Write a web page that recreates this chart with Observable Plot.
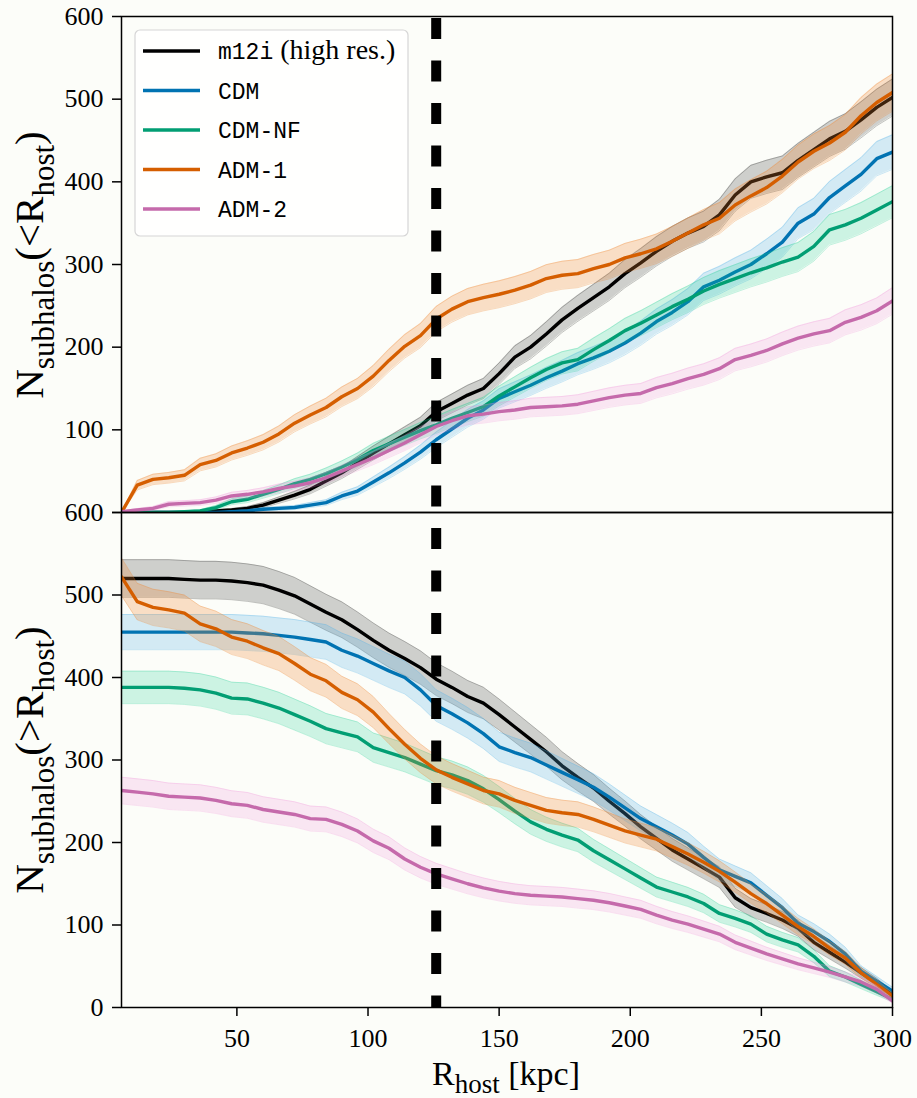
<!DOCTYPE html>
<html>
<head>
<meta charset="utf-8">
<script src="https://cdn.jsdelivr.net/npm/d3@7"></script>
<script src="https://cdn.jsdelivr.net/npm/@observablehq/plot@0.6"></script>
<style>
html, body { margin: 0; padding: 0; background: #fcfdf9; }
#chart { position: relative; width: 917px; height: 1098px; }
#chart svg { position: absolute; left: 0; overflow: visible; }
</style>
</head>
<body>
<div id="chart"></div>
<script>
// Host-centric radius grid [kpc]
const radius = [6,12,18,24,30,36,42,48,54,60,66,72,78,84,90,96,102,108,114,120,126,132,138,144,150,156,162,168,174,180,186,192,198,204,210,216,222,228,234,240,246,252,258,264,270,276,282,288,294,300];

const seriesNames = ["m12i (high res.)", "CDM", "CDM-NF", "ADM-1", "ADM-2"];

// Cumulative counts N(<R)
const innerM12i = [0,0,0,0,0,1,2,3,5,9,15,21,28,38,48,60,72,83,94,105,122,132,142,150,168,188,200,216,233,247,260,273,289,302,316,328,338,346,360,384,400,406,411,426,439,452,461,475,490,502];
const innerCDM = [0,0,0,0,0,0,0,1,2,4,5,6,9,12,20,26,37,48,60,73,88,101,114,124,138,146,154,163,171,180,187,195,205,217,231,242,255,273,281,291,300,313,327,350,361,381,395,409,428,436];
const innerCDMNF = [0,0,0,0,1,2,6,13,16,22,28,35,40,47,55,64,75,83,91,99,106,114,121,128,141,152,163,173,181,185,197,208,220,229,239,249,258,268,276,283,290,296,303,309,322,342,348,356,366,376];
const innerADM1 = [0,33,40,42,45,58,63,72,78,85,95,108,118,127,140,150,165,184,201,214,234,246,255,260,264,269,275,283,287,289,295,300,308,313,319,328,338,348,356,372,383,393,407,424,437,447,460,480,496,508];
const innerADM2 = [1,3,5,10,11,12,15,20,22,25,29,32,36,42,50,58,66,75,84,94,104,111,117,119,122,124,127,128,129,131,135,139,142,144,151,156,162,167,174,185,190,196,204,211,216,220,230,236,244,256];

// Counts beyond R: N(>R)
const outerM12i = [520,520,520,520,519,518,518,517,515,512,506,499,489,479,470,458,445,433,423,412,398,388,377,369,355,340,325,310,293,279,266,250,235,219,205,191,180,169,158,133,121,114,106,96,79,67,55,42,30,16];
const outerCDM = [455,455,455,455,455,455,455,455,454,453,451,449,446,443,433,426,417,408,400,385,366,356,345,332,316,309,303,294,285,276,267,255,242,229,219,209,198,182,167,159,151,136,121,102,92,80,65,44,32,20];
const outerCDMNF = [388,388,388,388,387,385,381,375,374,369,363,355,347,338,333,328,315,309,303,295,287,282,275,265,252,238,225,216,209,203,190,179,168,157,146,140,134,126,114,108,101,89,82,76,62,44,37,28,19,10];
const outerADM1 = [522,492,485,482,478,465,459,449,444,436,429,417,404,396,382,373,358,338,319,302,288,279,271,263,259,251,245,239,236,234,228,221,214,209,204,195,186,176,165,152,138,126,112,98,86,72,60,42,28,14];
const outerADM2 = [263,261,259,256,255,254,251,247,245,240,237,234,229,228,222,214,202,193,180,170,162,156,150,145,141,138,136,135,134,132,130,127,123,119,112,106,101,95,89,79,72,65,59,53,48,43,37,31,22,8];

const referenceRadius = [126];
const yTicks = [0,100,200,300,400,500,600];
const xTicks = [50,100,150,200,250,300];

const lineColors = ["#000000", "#0173B2", "#029E73", "#D55E00", "#C56AAB"];
const bandColors = ["#000000", "#56B4E9", "#10CC8C", "#EE8733", "#F08CD8"];
const bandOpacity = [0.18, 0.25, 0.2, 0.26, 0.2];

// Tidy rows; shaded band = Poisson uncertainty (N ± √N)
function tidy(arrays) {
  const rows = [];
  arrays.forEach((vals, i) => {
    vals.forEach((n, j) => {
      const e = Math.sqrt(n);
      rows.push({series: seriesNames[i], r: radius[j], n, lo: Math.max(0, n - e), hi: n + e});
    });
  });
  return rows;
}
const innerRows = tidy([innerM12i, innerCDM, innerCDMNF, innerADM1, innerADM2]);
const outerRows = tidy([outerM12i, outerCDM, outerCDMNF, outerADM1, outerADM2]);

function seriesMarks(rows) {
  const marks = [];
  seriesNames.forEach((s, i) => {
    const d = rows.filter(r => r.series === s);
    marks.push(Plot.areaY(d, {x: "r", y1: "lo", y2: "hi", fill: bandColors[i], fillOpacity: bandOpacity[i], clip: true}));
    marks.push(Plot.lineY(d, {x: "r", y: "lo", stroke: bandColors[i], strokeOpacity: bandOpacity[i] + 0.05, strokeWidth: 1, clip: true}));
    marks.push(Plot.lineY(d, {x: "r", y: "hi", stroke: bandColors[i], strokeOpacity: bandOpacity[i] + 0.05, strokeWidth: 1, clip: true}));
    marks.push(Plot.lineY(d, {x: "r", y: "n", stroke: lineColors[i], strokeWidth: 3.4, clip: true}));
  });
  return marks;
}

const SERIF = "'Liberation Serif', 'Times New Roman', serif";
const MONO = "'Liberation Mono', 'DejaVu Sans Mono', monospace";
const baseStyle = {background: "transparent", fontFamily: SERIF, fontSize: "26px", color: "black", overflow: "visible"};

const topPlot = Plot.plot({
  width: 917, height: 512,
  marginLeft: 121, marginRight: 25, marginTop: 16, marginBottom: 0,
  x: {domain: [6, 300], axis: null},
  y: {domain: [0, 600]},
  style: baseStyle,
  marks: [
    ...seriesMarks(innerRows),
    Plot.ruleX(referenceRadius, {stroke: "black", strokeWidth: 10, strokeDasharray: "21,21.5", strokeDashoffset: 40.5}),
    Plot.frame({stroke: "black", strokeWidth: 1.5}),
    Plot.axisY(yTicks, {tickSize: 9, tickPadding: 9, strokeWidth: 1.5, label: null, tickFormat: d => d === 0 ? "" : String(d)})
  ]
});

const bottomPlot = Plot.plot({
  width: 917, height: 586,
  marginLeft: 121, marginRight: 25, marginTop: 0, marginBottom: 91,
  x: {domain: [6, 300]},
  y: {domain: [0, 600]},
  style: baseStyle,
  marks: [
    ...seriesMarks(outerRows),
    Plot.ruleX(referenceRadius, {stroke: "black", strokeWidth: 10, strokeDasharray: "21,21.5", strokeDashoffset: 26.5}),
    Plot.frame({stroke: "black", strokeWidth: 1.5}),
    Plot.axisY(yTicks, {tickSize: 9, tickPadding: 9, strokeWidth: 1.5, label: null}),
    Plot.axisX(xTicks, {tickSize: 9, tickPadding: 12, strokeWidth: 1.5, label: null})
  ]
});

const chart = document.getElementById("chart");
chart.appendChild(topPlot);
chart.appendChild(bottomPlot);
topPlot.style.top = "0px";
bottomPlot.style.top = "512px";

// Axis titles with subscripts
function yLabel(svg, cy, sign) {
  const t = d3.select(svg).append("text")
    .attr("transform", `translate(43,${cy}) rotate(-90)`)
    .attr("text-anchor", "middle")
    .attr("font-family", SERIF)
    .attr("font-size", 41)
    .attr("fill", "black");
  t.append("tspan").text("N");
  t.append("tspan").attr("font-size", 31).attr("dy", 11).text("subhalos");
  t.append("tspan").attr("dy", -11).text("(" + sign + "R");
  t.append("tspan").attr("font-size", 31).attr("dy", 11).text("host");
  t.append("tspan").attr("dy", -11).text(")");
}
yLabel(topPlot, 265, "<");
yLabel(bottomPlot, 248, ">");

const xl = d3.select(bottomPlot).append("text")
  .attr("x", 506).attr("y", 573)
  .attr("text-anchor", "middle")
  .attr("font-family", SERIF)
  .attr("font-size", 34)
  .attr("fill", "black");
xl.append("tspan").text("R");
xl.append("tspan").attr("font-size", 27).attr("dy", 8).text("host");
xl.append("tspan").attr("dy", -8).text(" [kpc]");

// Legend
const lg = d3.select(topPlot).append("g");
lg.append("rect")
  .attr("x", 135).attr("y", 30).attr("width", 273).attr("height", 206).attr("rx", 5)
  .attr("fill", "white").attr("fill-opacity", 0.85)
  .attr("stroke", "#d6d6d6").attr("stroke-width", 1.2);
seriesNames.forEach((s, i) => {
  const y = 51 + i * 39.5;
  lg.append("line").attr("x1", 143).attr("x2", 200).attr("y1", y).attr("y2", y)
    .attr("stroke", lineColors[i]).attr("stroke-width", 3.4);
  const t = lg.append("text").attr("x", 218).attr("y", y).attr("dy", "0.35em")
    .attr("text-anchor", "start")
    .attr("font-size", 23).attr("fill", "black");
  if (i === 0) {
    t.append("tspan").attr("font-family", MONO).text("m12i");
    t.append("tspan").attr("font-family", SERIF).attr("font-size", 28).text(" (high res.)");
  } else {
    t.append("tspan").attr("font-family", MONO).text(s);
  }
});
</script>
</body>
</html>
